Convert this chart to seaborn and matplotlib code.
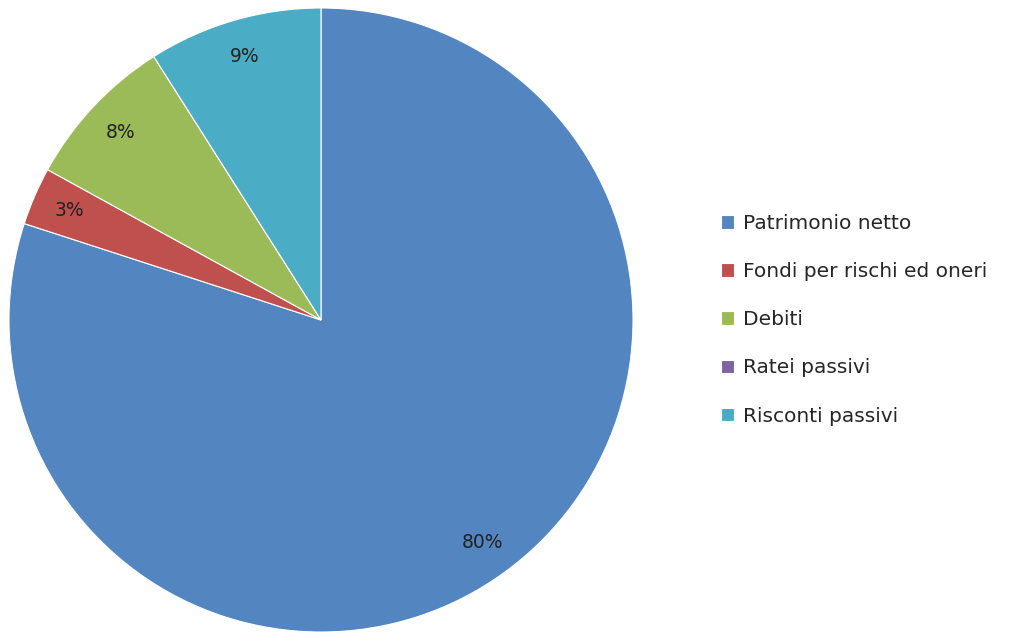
import matplotlib
matplotlib.use("Agg")
import matplotlib.pyplot as plt
import seaborn as sns

# data
categories = ["Patrimonio netto", "Fondi per rischi ed oneri", "Debiti", "Ratei passivi", "Risconti passivi"]
shares = [80, 3, 8, 0, 9]
colors = ["#5386C0", "#C0504D", "#9BBB59", "#8064A2", "#4BACC6"]

sns.set_theme(style="white")
plt.rcParams['font.family'] = ['DejaVu Sans']

fig = plt.figure(figsize=(10.13, 6.32), dpi=100)
ax = fig.add_axes([9 / 1013, 0.0, 624 / 1013, 624 / 632])


def pct_label(p):
    return f"{p:.0f}%" if p >= 0.5 else ""


wedges, texts, autotexts = ax.pie(
    shares, colors=colors, startangle=90, counterclock=False,
    autopct=pct_label, pctdistance=0.88,
    wedgeprops=dict(edgecolor="white", linewidth=0.8),
    textprops=dict(fontsize=13.5, color="#222222"),
)
ax.set_xlim(-1.0, 1.0)
ax.set_ylim(-1.0, 1.0)
ax.set_aspect("equal")

fig.legend(wedges, categories, loc="center left", bbox_to_anchor=(0.704, 0.494),
           frameon=False, fontsize=14.5, handlelength=0.65, handleheight=0.65,
           handletextpad=0.45, labelspacing=1.45, borderaxespad=0)

fig.savefig("out.png", dpi=100)
plt.close(fig)
